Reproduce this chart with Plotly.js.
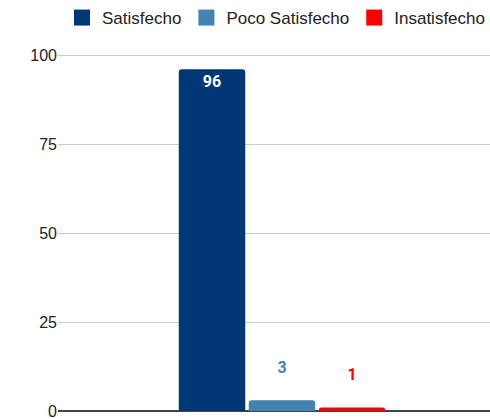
<!DOCTYPE html>
<html><head><meta charset="utf-8">
<script src="https://cdn.plot.ly/plotly-3.0.1.min.js"></script>
<style>html,body{margin:0;padding:0;background:#fff}#c{width:490px;height:419px}</style>
</head><body><div id="c"></div>
<script>
const categories = [""];
const seriesNames = ["Satisfecho", "Poco Satisfecho", "Insatisfecho"];
const satisfecho = [96];
const pocoSatisfecho = [3];
const insatisfecho = [1];
const yTicks = [0, 25, 50, 75, 100];

const colors = ["#003876", "#4283b3", "#ff0000"];
const values = [satisfecho, pocoSatisfecho, insatisfecho];
const labelFont = {family: "Roboto, Arial, sans-serif", size: 16, weight: 700};

const traces = values.map((v, i) => ({
  type: "bar",
  name: seriesNames[i],
  x: categories,
  y: v,
  showlegend: false,
  marker: {color: colors[i], cornerradius: 3},
  text: v.map(n => i === 0 ? String(n) : n + "<br> "),
  texttemplate: "%{text}",
  textposition: i === 0 ? "inside" : "outside",
  insidetextanchor: "end",
  textangle: 0,
  cliponaxis: false,
  textfont: Object.assign({}, labelFont, {color: i === 0 ? "#ffffff" : colors[i]}),
  hoverinfo: "none"
}));

const legendTraces = seriesNames.map((n, i) => ({
  type: "scatter", mode: "markers", name: n,
  x: categories, y: [null],
  marker: {symbol: "square", size: 18, color: colors[i]},
  hoverinfo: "none"
}));

const layout = {
  width: 490, height: 419,
  margin: {l: 58, r: 0, t: 54, b: 8, autoexpand: false},
  paper_bgcolor: "#fff", plot_bgcolor: "#fff",
  barmode: "group",
  bargap: 0.514,
  bargroupgap: 0.05,
  font: {family: "Liberation Sans, Arial, sans-serif", color: "#222"},
  showlegend: true,
  legend: {orientation: "h", xref: "container", yref: "container", x: 1, xanchor: "right",
           y: 0.957, yanchor: "middle",
           font: {size: 17, color: "#222"}, itemwidth: 30, tracegroupgap: 0, itemsizing: "trace"},
  xaxis: {type: "category", range: [-0.5185, 0.4815], showticklabels: false, showgrid: false,
          zeroline: false, showline: false, fixedrange: true},
  yaxis: {range: [0, 100.3], tickvals: yTicks, ticktext: yTicks.map(String),
          tickfont: {size: 16, color: "#222"}, gridcolor: "#cccccc", gridwidth: 1,
          ticklabeloverflow: "allow",
          zeroline: true, zerolinecolor: "#444", zerolinewidth: 1.5, ticks: "", ticklen: 0,
          showline: false, fixedrange: true}
};

Plotly.newPlot("c", traces.concat(legendTraces), layout, {displayModeBar: false, staticPlot: true});
</script></body></html>
